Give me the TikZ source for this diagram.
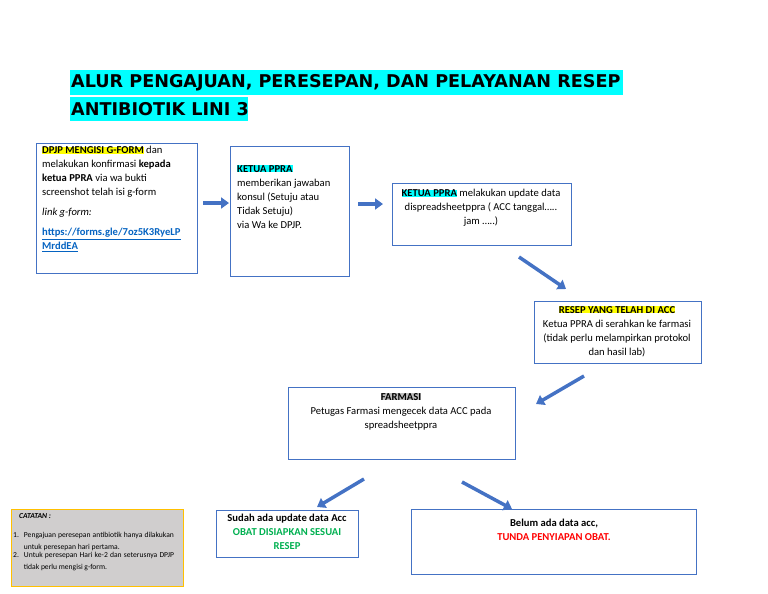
\documentclass[tikz,border=0pt]{standalone}
\usepackage{fontspec}
\setmainfont{Carlito}
\newfontfamily\titlefont{DejaVu Sans}
\usetikzlibrary{arrows.meta}
\definecolor{bblue}{HTML}{4472C4}
\definecolor{linkb}{HTML}{0563C1}
\definecolor{hy}{HTML}{FFFF00}
\definecolor{hc}{HTML}{00FFFF}
\definecolor{gr}{HTML}{00B050}
\begin{document}
\begin{tikzpicture}[x=1pt,y=-1pt,
  barrow/.style={draw=bblue,line width=3.5pt,-{Triangle[length=8pt,width=11pt]},color=bblue},
  txt/.style={font=\fontsize{10.6}{14}\selectfont,align=left,anchor=north west,inner sep=0pt}]
\useasboundingbox (0,0) rectangle (768,594);
% title
\fill[hc] (70,70) rectangle (623,95);
\fill[hc] (70,97) rectangle (248,121);
\node[anchor=west,inner sep=0pt,font=\titlefont\bfseries\fontsize{17.6}{18}\selectfont] (t1) at (71,83) {ALUR PENGAJUAN, PERESEPAN, DAN PELAYANAN RESEP};
\node[anchor=west,inner sep=0pt,font=\titlefont\bfseries\fontsize{17.6}{18}\selectfont] (t2) at (71,109) {ANTIBIOTIK LINI 3};
% boxes
\draw[bblue,line width=0.8pt] (36,143) rectangle (197,273);
\draw[bblue,line width=0.8pt] (230,146) rectangle (349,276);
\draw[bblue,line width=0.8pt] (392,183) rectangle (571,245);
\draw[bblue,line width=0.8pt] (534,301) rectangle (701,363);
\draw[bblue,line width=0.8pt] (288,387) rectangle (515,459);
\draw[bblue,line width=0.8pt] (216,510) rectangle (358,557);
\draw[bblue,line width=0.8pt] (411,509) rectangle (696,574);
\draw[draw={rgb,255:red,255;green,192;blue,0},fill={rgb,255:red,208;green,206;blue,206},line width=0.8pt] (11,509) rectangle (183,586);
% texts
\node[txt] (x1) at (42,146) {\setlength{\fboxsep}{0pt}\colorbox{hy}{\textbf{DPJP MENGISI G-FORM}} dan\\melakukan konfirmasi \textbf{kepada}\\\textbf{ketua PPRA} via wa bukti\\screenshot telah isi g-form\\[6pt]\textit{link g-form:}\\[6pt]\textcolor{linkb}{\textbf{\underline{https://forms.gle/7oz5K3RyeLP}}}\\\textcolor{linkb}{\textbf{\underline{MrddEA}}}};
\node[txt] (x2) at (237,165) {\setlength{\fboxsep}{0pt}\colorbox{hc}{\textbf{KETUA PPRA}}\\memberikan jawaban\\konsul (Setuju atau\\Tidak Setuju)\\via Wa ke DPJP.};
\node[txt,align=center,anchor=north] (x3) at (481,189) {\setlength{\fboxsep}{0pt}\colorbox{hc}{\textbf{KETUA PPRA}} melakukan update data\\dispreadsheetppra ( ACC tanggal…..\\jam …..)};
\node[txt,align=center,anchor=north] (x4) at (617,306) {\setlength{\fboxsep}{0pt}\colorbox{hy}{\textbf{RESEP YANG TELAH DI ACC}}\\Ketua PPRA di serahkan ke farmasi\\(tidak perlu melampirkan protokol\\dan hasil lab)};
\node[txt,align=center,anchor=north] (x5) at (401,393) {\setlength{\fboxsep}{0pt}\colorbox{lightgray}{\textbf{FARMASI}}\\Petugas Farmasi mengecek data ACC pada\\spreadsheetppra};
\node[txt,align=center,anchor=north] (x6) at (287,514) {\textbf{Sudah ada update data Acc}\\\textcolor{gr}{\textbf{OBAT DISIAPKAN SESUAI}}\\\textcolor{gr}{\textbf{RESEP}}};
\node[txt,align=center,anchor=north] (x7) at (554,519) {\textbf{Belum ada data acc,}\\\textcolor{red}{\textbf{TUNDA PENYIAPAN OBAT.}}};
\node[txt,font=\fontsize{7.6}{9}\selectfont] (c0) at (19,513) {\textit{\textbf{CATATAN :}}};
\node[txt,font=\fontsize{7.6}{9}\selectfont] (c1) at (13,531) {\begin{tabular}{@{}l@{\hspace{5pt}}p{150pt}@{}}1.&\parbox[t]{150pt}{\fontsize{7.6}{12}\selectfont\hyphenpenalty=10000\tolerance=9999 Pengajuan peresepan antibiotik hanya dilakukan untuk peresepan hari pertama.}\\[1pt]2.&\parbox[t]{150pt}{\fontsize{7.6}{12}\selectfont\hyphenpenalty=10000\tolerance=9999 Untuk peresepan Hari ke-2 dan seterusnya DPJP tidak perlu mengisi g-form.}\end{tabular}};
% arrows
\coordinate (a1s) at (203,203); \coordinate (a1e) at (229,203);
\coordinate (a2s) at (358,204); \coordinate (a2e) at (383,204);
\coordinate (a3s) at (519,257); \coordinate (a3e) at (566,289);
\coordinate (a4s) at (584,376); \coordinate (a4e) at (536,404);
\coordinate (a5s) at (364,479); \coordinate (a5e) at (317,507);
\coordinate (a6s) at (462,482); \coordinate (a6e) at (512,509);
\foreach \i in {1,...,6} \draw[barrow] (a\i s) -- (a\i e);
\end{tikzpicture}
\end{document}
